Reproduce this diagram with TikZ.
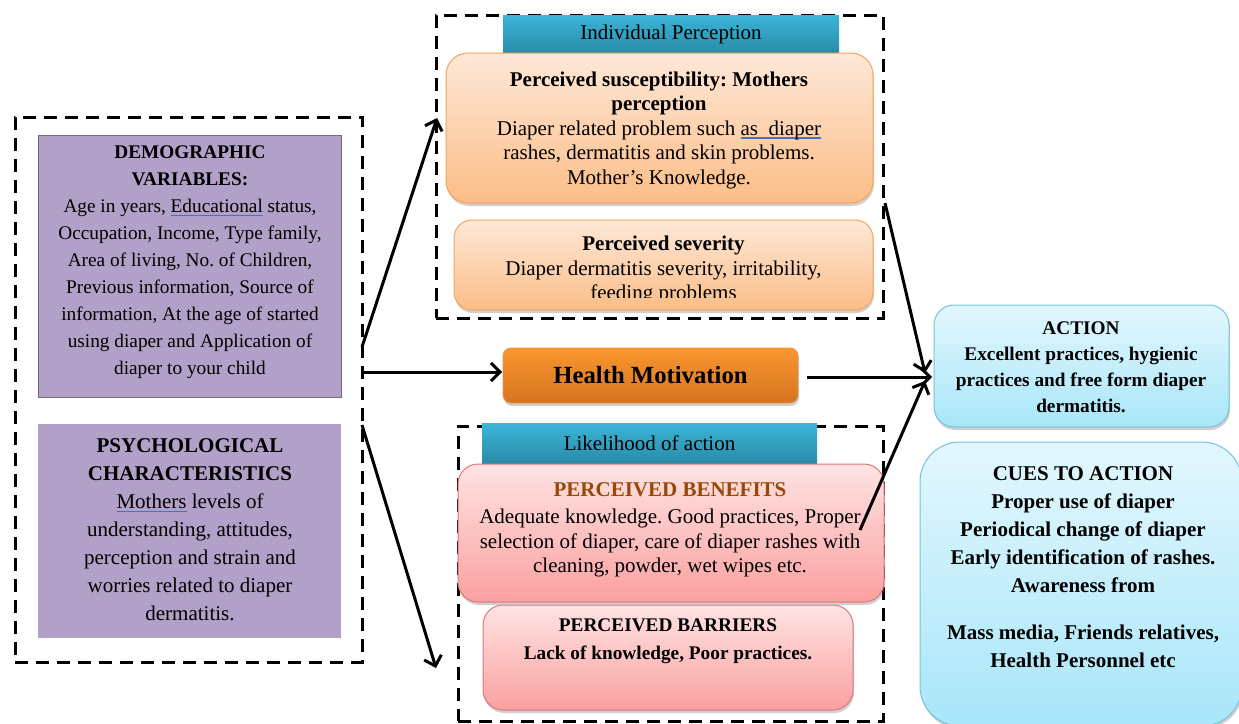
\documentclass[tikz,border=0pt]{standalone}
\usepackage{fontspec}
\setmainfont{Liberation Serif}
\usetikzlibrary{arrows.meta,shadows,calc}
\definecolor{purp}{HTML}{B1A0C7}
\definecolor{purpdraw}{HTML}{6F6F6F}
\definecolor{tealtop}{HTML}{3BB5D8}
\definecolor{tealbot}{HTML}{2A8BA8}
\definecolor{ortop}{HTML}{FEE8D8}
\definecolor{orbot}{HTML}{FBBD87}
\definecolor{ordraw}{HTML}{F7A35C}
\definecolor{hmtop}{HTML}{F9962F}
\definecolor{hmbot}{HTML}{D6741F}
\definecolor{hmdraw}{HTML}{EB9345}
\definecolor{pktop}{HTML}{FFE3E3}
\definecolor{pkbot}{HTML}{FAA0A0}
\definecolor{pkdraw}{HTML}{D9797A}
\definecolor{bltop}{HTML}{E3F7FD}
\definecolor{blbot}{HTML}{A8E6F9}
\definecolor{bldraw}{HTML}{74C3DC}
\definecolor{brownt}{HTML}{984807}
\definecolor{ulblue}{HTML}{4472C4}
\newsavebox\ulbox
\newcommand\bul[1]{\sbox\ulbox{#1}\rlap{\textcolor{ulblue}{\rule[-3.5pt]{\wd\ulbox}{1.2pt}}}\usebox\ulbox}
\newcommand\fA{\fontsize{19.3}{27}\selectfont}
\newcommand\fB{\fontsize{21}{28}\selectfont}
\newcommand\fC{\fontsize{21}{24.5}\selectfont}
\newcommand\fD{\fontsize{19.3}{26}\selectfont}
\newcommand\fE{\fontsize{24.7}{28}\selectfont}
\frenchspacing
\begin{document}
\begin{tikzpicture}[x=1pt,y=-1pt,
  dashbox/.style={draw=black, line width=3pt, dash pattern=on 13pt off 8pt},
  shad/.style={drop shadow={shadow xshift=1pt, shadow yshift=-3pt, opacity=0.3, fill=black!60}},
  hdr/.style={top color=tealtop, bottom color=tealbot, draw=none, font=\fB, inner sep=0pt},
  orbox/.style={shad, rounded corners=22pt, top color=ortop, bottom color=orbot, draw=ordraw, line width=1pt},
  pkbox/.style={shad, rounded corners=20pt, top color=pktop, bottom color=pkbot, draw=pkdraw, line width=1pt},
  blbox/.style={shad, rounded corners=20pt, top color=bltop, bottom color=blbot, draw=bldraw, line width=1pt},
  txt/.style={align=center, inner sep=0pt},
  arr/.style={line width=3pt, -{Straight Barb[length=9pt,width=18pt]}}
]
\useasboundingbox (0,0) rectangle (1239,723);
\fill[white] (0,0) rectangle (1239,723);

% dashed frames
\node[dashbox, minimum width=347pt, minimum height=545pt] (leftbox) at (188.5,389.5) {};
\node[dashbox, minimum width=447pt, minimum height=303pt] (topbox) at (659.5,166.5) {};
\node[dashbox, minimum width=425pt, minimum height=295pt] (botbox) at (670.5,573.5) {};

% left column
\node[fill=purp, draw=purpdraw, line width=0.8pt, minimum width=303pt, minimum height=262pt] (demo) at (189.5,266) {};
\node[txt, font=\fA] (demotxt) at (190,262) {\textbf{DEMOGRAPHIC}\\\textbf{VARIABLES:}\\Age in years, \bul{Educational} status,\\Occupation, Income, Type family,\\Area of living, No. of Children,\\Previous information, Source of\\information, At the age of started\\using diaper and Application of\\diaper to your child};
\node[fill=purp, minimum width=303pt, minimum height=214pt] (psych) at (189.5,531) {};
\node[txt, font=\fB] (psychtxt) at (190,530) {\textbf{PSYCHOLOGICAL}\\\textbf{CHARACTERISTICS}\\\bul{Mothers} levels of\\understanding, attitudes,\\perception and strain and\\worries related to diaper\\dermatitis.};

% individual perception
\node[hdr, minimum width=336pt, minimum height=38pt] (hdr1) at (671,34) {Individual Perception};
\node[orbox, minimum width=427pt, minimum height=150pt] (sus) at (659.5,128) {};
\node[txt, font=\fC] (sustxt) at (659,130) {\textbf{Perceived susceptibility: Mothers}\\\textbf{perception}\\Diaper related problem such \bul{as\ \ diaper}\\rashes, dermatitis and skin problems.\\Mother’s Knowledge.};
\node[orbox, rounded corners=18pt, minimum width=419pt, minimum height=90pt] (sev) at (663.5,265) {};
\begin{scope}
\clip (455,221) rectangle (873,297);
\node[txt, font=\fC] (sevtxt) at (663.5,270) {\textbf{Perceived severity}\\Diaper dermatitis severity, irritability,\\feeding problems};
\end{scope}

% health motivation
\node[shad, rounded corners=8pt, top color=hmtop, bottom color=hmbot, draw=hmdraw, line width=0.8pt, minimum width=295pt, minimum height=55pt, font=\fE\bfseries] (hm) at (650.5,375.5) {Health Motivation};

% likelihood of action
\node[hdr, minimum width=335pt, minimum height=40pt] (hdr2) at (649.5,443) {Likelihood of action};
\node[pkbox, minimum width=426pt, minimum height=138pt] (ben) at (671,533) {};
\node[txt, font=\fC] (bentxt) at (670,530) {\textcolor{brownt}{\textbf{PERCEIVED BENEFITS}}\\[3pt]Adequate knowledge. Good practices, Proper\\selection of diaper, care of diaper rashes with\\cleaning, powder, wet wipes etc.};
\node[pkbox, minimum width=370pt, minimum height=105pt] (bar) at (668,657.5) {};
\node[txt, font=\fD\bfseries] (bartxt) at (668,641) {PERCEIVED BARRIERS\\[2pt]Lack of knowledge, Poor practices.};

% right column
\node[blbox, minimum width=295pt, minimum height=122pt] (act) at (1081.5,366) {};
\node[txt, font=\fD\bfseries] (acttxt) at (1081,367) {ACTION\\Excellent practices, hygienic\\practices and free form diaper\\dermatitis.};
\node[blbox, rounded corners=40pt, minimum width=322pt, minimum height=284pt] (cues) at (1081,584) {};
\node[txt, font=\fB\bfseries] (cuestxt) at (1083,567) {CUES TO ACTION\\Proper use of diaper\\Periodical change of diaper\\Early identification of rashes.\\Awareness from\\[19pt]Mass media, Friends relatives,\\Health Personnel etc};

% arrow end points
\coordinate (p1) at (362,347);
\coordinate (q1) at (437,118);
\coordinate (p2) at (362,372);
\coordinate (q2) at (502,372);
\coordinate (p3) at (362,425);
\coordinate (q3) at (436,668);
\coordinate (p4) at (885,203);
\coordinate (q4) at (925,373);
\coordinate (p5) at (807,377);
\coordinate (q5) at (932,377);
\coordinate (p6) at (860,530);
\coordinate (q6) at (925,381);

\draw[arr] (p1) -- (q1);
\draw[arr] (p2) -- (q2);
\draw[arr] (p3) -- (q3);
\draw[arr] (p4) -- (q4);
\draw[arr] (p5) -- (q5);
\draw[arr] (p6) -- (q6);
\end{tikzpicture}
\end{document}
